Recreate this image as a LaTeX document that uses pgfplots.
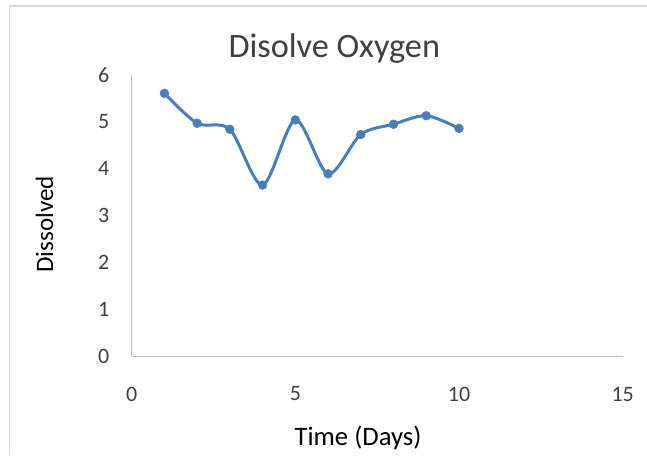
\documentclass[border=0pt]{standalone}
\usepackage{pgfplots}
\pgfplotsset{compat=1.18}
\usepackage{fontspec}
\setmainfont{Carlito}
\definecolor{serblue}{HTML}{4A7EBB}
\definecolor{axgray}{HTML}{BFBFBF}
\definecolor{brdgray}{HTML}{D9D9D9}
\definecolor{txt}{HTML}{404040}
\begin{document}
\begin{tikzpicture}
\useasboundingbox (0,0) rectangle (485.25pt,341.25pt);
\draw[brdgray, line width=0.9pt] (7pt,0) -- (7pt,336.75pt) -- (485.25pt,336.75pt);
\begin{axis}[
  at={(98.75pt,74.25pt)}, anchor=south west,
  scale only axis, width=368.25pt, height=210.75pt,
  xmin=0, xmax=15, ymin=0, ymax=6,
  xtick={0,5,10,15}, ytick={0,1,2,3,4,5,6},
  axis x line*=bottom, axis y line*=left,
  axis line style={axgray, line width=0.75pt, -},
  major tick length=0pt,
  tick label style={font=\fontsize{16.5}{18}\selectfont, text=txt},
  /pgf/number format/assume math mode=true,
  xticklabel style={anchor=center, yshift=-28.5pt},
  yticklabel style={anchor=center, xshift=-21pt},
  clip=false,
]
\addplot[serblue, line width=2.25pt, smooth, tension=0.5,
  mark=*, mark size=3.3pt, mark options={solid, fill=serblue, draw=serblue, line width=0.4pt}]
  coordinates {
  (1,5.61) (2,4.97) (3,4.84) (4,3.65) (5,5.04)
  (6,3.89) (7,4.73) (8,4.95) (9,5.13) (10,4.86)
  };
\end{axis}
\node[anchor=base, text=txt, font=\fontsize{25.7}{28}\selectfont, inner sep=0pt] at (250.7pt,298pt) {Disolve Oxygen};
\node[anchor=base, font=\fontsize{20}{22}\selectfont, inner sep=0pt] at (268.5pt,7.5pt) {Time (Days)};
\node[anchor=base, rotate=90, font=\fontsize{18.8}{21}\selectfont, inner sep=0pt] at (39.75pt,172.9pt) {Dissolved};
\end{tikzpicture}
\end{document}
